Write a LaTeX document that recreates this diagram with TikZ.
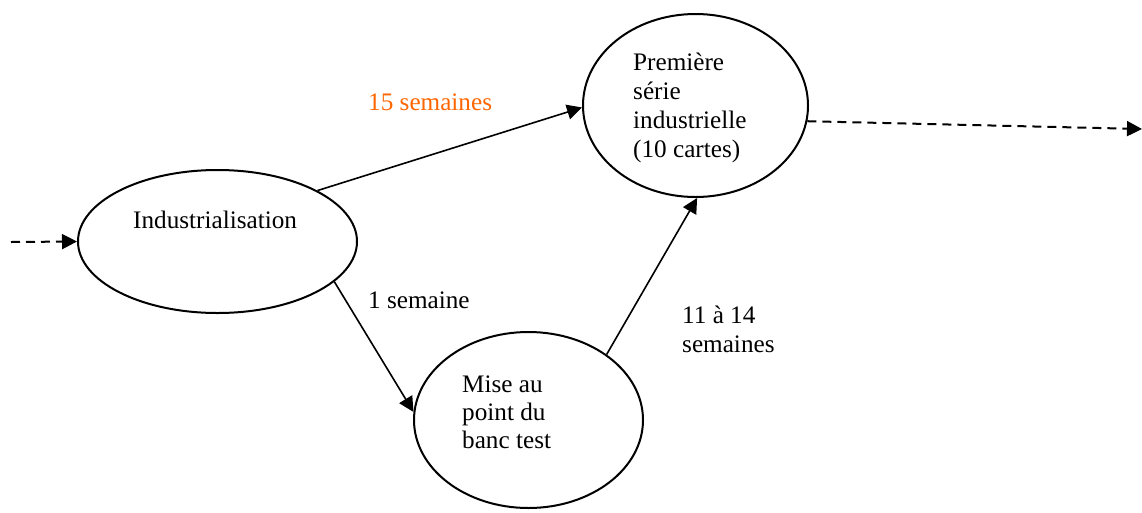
\documentclass[tikz,border=0pt]{standalone}
\usepackage{fontspec}
\setmainfont{Liberation Serif}
\usetikzlibrary{arrows.meta,shapes.geometric}
\definecolor{durorange}{RGB}{255,102,0}
\begin{document}
\begin{tikzpicture}[x=1pt,y=-1pt,
  stage/.style={draw,ellipse,line width=2pt,inner sep=0pt},
  lbl/.style={anchor=base west,inner sep=0pt,font=\fontsize{25.2pt}{29pt}\selectfont},
  arr/.style={line width=1.6pt,-{Triangle[length=15pt,width=15pt]}},
  dasharr/.style={arr,line width=2pt,dash pattern=on 9pt off 6pt}]
\useasboundingbox (0,0) rectangle (1142,512);
\node[stage,minimum width=279pt,minimum height=143pt] (ind) at (217.5,241.5) {};
\node[stage,minimum width=225pt,minimum height=183pt] (prem) at (695.5,105.5) {};
\node[stage,minimum width=229pt,minimum height=176pt] (mise) at (528.5,420) {};
\coordinate (in) at (11,242);
\coordinate (out) at (1142,129);
% texts
\node[lbl] (t1) at (133,228) {Industrialisation};
\node[lbl] (t2a) at (633,70) {Première};
\node[lbl] (t2b) at (633,99) {série};
\node[lbl] (t2c) at (633,128) {industrielle};
\node[lbl] (t2d) at (633,157) {(10 cartes)};
\node[lbl] (t3a) at (462,392) {Mise au};
\node[lbl] (t3b) at (462,420) {point du};
\node[lbl] (t3c) at (462,448) {banc test};
\node[lbl,text=durorange] (l1) at (368,110) {15 semaines};
\node[lbl] (l2) at (368,308) {1 semaine};
\node[lbl] (l3a) at (682,323) {11 à 14};
\node[lbl] (l3b) at (682,352) {semaines};
% connectors
\draw[dasharr] (in) -- (ind.180);
\draw[arr] (ind.27.6) -- (prem.181);
\draw[arr] (ind.-19.3) -- (mise.176);
\draw[arr] (mise.40.7) -- (prem.-89);
\draw[dasharr] (prem.-8.3) -- (out);
\end{tikzpicture}
\end{document}
